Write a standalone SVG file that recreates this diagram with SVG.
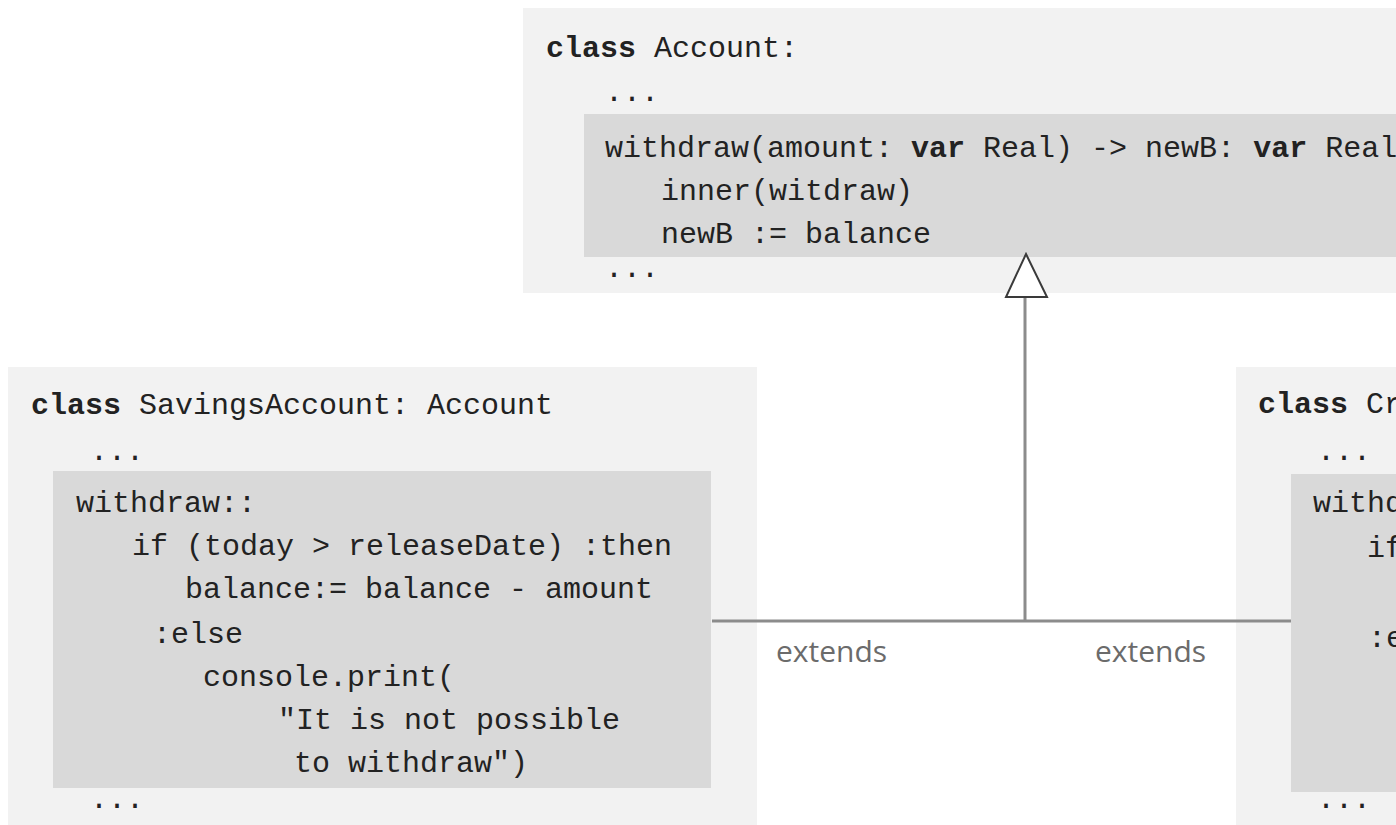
<svg xmlns="http://www.w3.org/2000/svg" width="1396" height="825" viewBox="0 0 1396 825">
<style>
.outer{fill:#f2f2f2}
.inner{fill:#d9d9d9}
.code{font-family:"Liberation Mono","DejaVu Sans Mono",monospace;font-size:30px;fill:#222}
.kw{font-weight:bold}
.lbl{font-family:"Open Sans","Liberation Sans",sans-serif;font-size:30px;fill:#6b6b6b}
.conn{stroke:#8c8c8c;stroke-width:3;fill:none}
.tri{fill:#ffffff;stroke:#3a3a3a;stroke-width:2}
</style>
<rect width="1396" height="825" fill="#ffffff"/>
<g id="account">
<rect class="outer" x="523" y="8" width="880" height="285"/>
<rect class="inner" x="584" y="114" width="820" height="143"/>
<text class="code" x="546" y="57"><tspan class="kw">class</tspan> Account:</text>
<text class="code" x="605" y="101">...</text>
<text class="code" x="605" y="157">withdraw(amount: <tspan class="kw">var</tspan> Real) -&gt; newB: <tspan class="kw">var</tspan> Real</text>
<text class="code" x="661" y="200">inner(witdraw)</text>
<text class="code" x="661" y="243">newB := balance</text>
<text class="code" x="605" y="277">...</text>
</g>
<g id="savings">
<rect class="outer" x="8" y="367" width="749" height="458"/>
<rect class="inner" x="53" y="471" width="658" height="317"/>
<text class="code" x="31" y="414"><tspan class="kw">class</tspan> SavingsAccount: Account</text>
<text class="code" x="90" y="460">...</text>
<text class="code" x="76" y="512">withdraw::</text>
<text class="code" x="132" y="555">if (today &gt; releaseDate) :then</text>
<text class="code" x="185" y="598">balance:= balance - amount</text>
<text class="code" x="153" y="643">:else</text>
<text class="code" x="203" y="686">console.print(</text>
<text class="code" x="278" y="729">"It is not possible</text>
<text class="code" x="294" y="772">to withdraw")</text>
<text class="code" x="90" y="808">...</text>
</g>
<g id="credit">
<rect class="outer" x="1236" y="367" width="170" height="458"/>
<rect class="inner" x="1291" y="474" width="115" height="318"/>
<text class="code" x="1258" y="413"><tspan class="kw">class</tspan> Cr</text>
<text class="code" x="1317" y="460">...</text>
<text class="code" x="1313" y="512">withd</text>
<text class="code" x="1367" y="557">if</text>
<text class="code" x="1368" y="647">:e</text>
<text class="code" x="1317" y="808">...</text>
</g>
<g id="connectors">
<line class="conn" x1="1025" y1="297" x2="1025" y2="621"/>
<line class="conn" x1="712" y1="621" x2="1291" y2="621"/>
<polygon class="tri" points="1026,254 1047,297 1006,297"/>
<text class="lbl" x="776" y="662">extends</text>
<text class="lbl" x="1095" y="662">extends</text>
</g>
</svg>
